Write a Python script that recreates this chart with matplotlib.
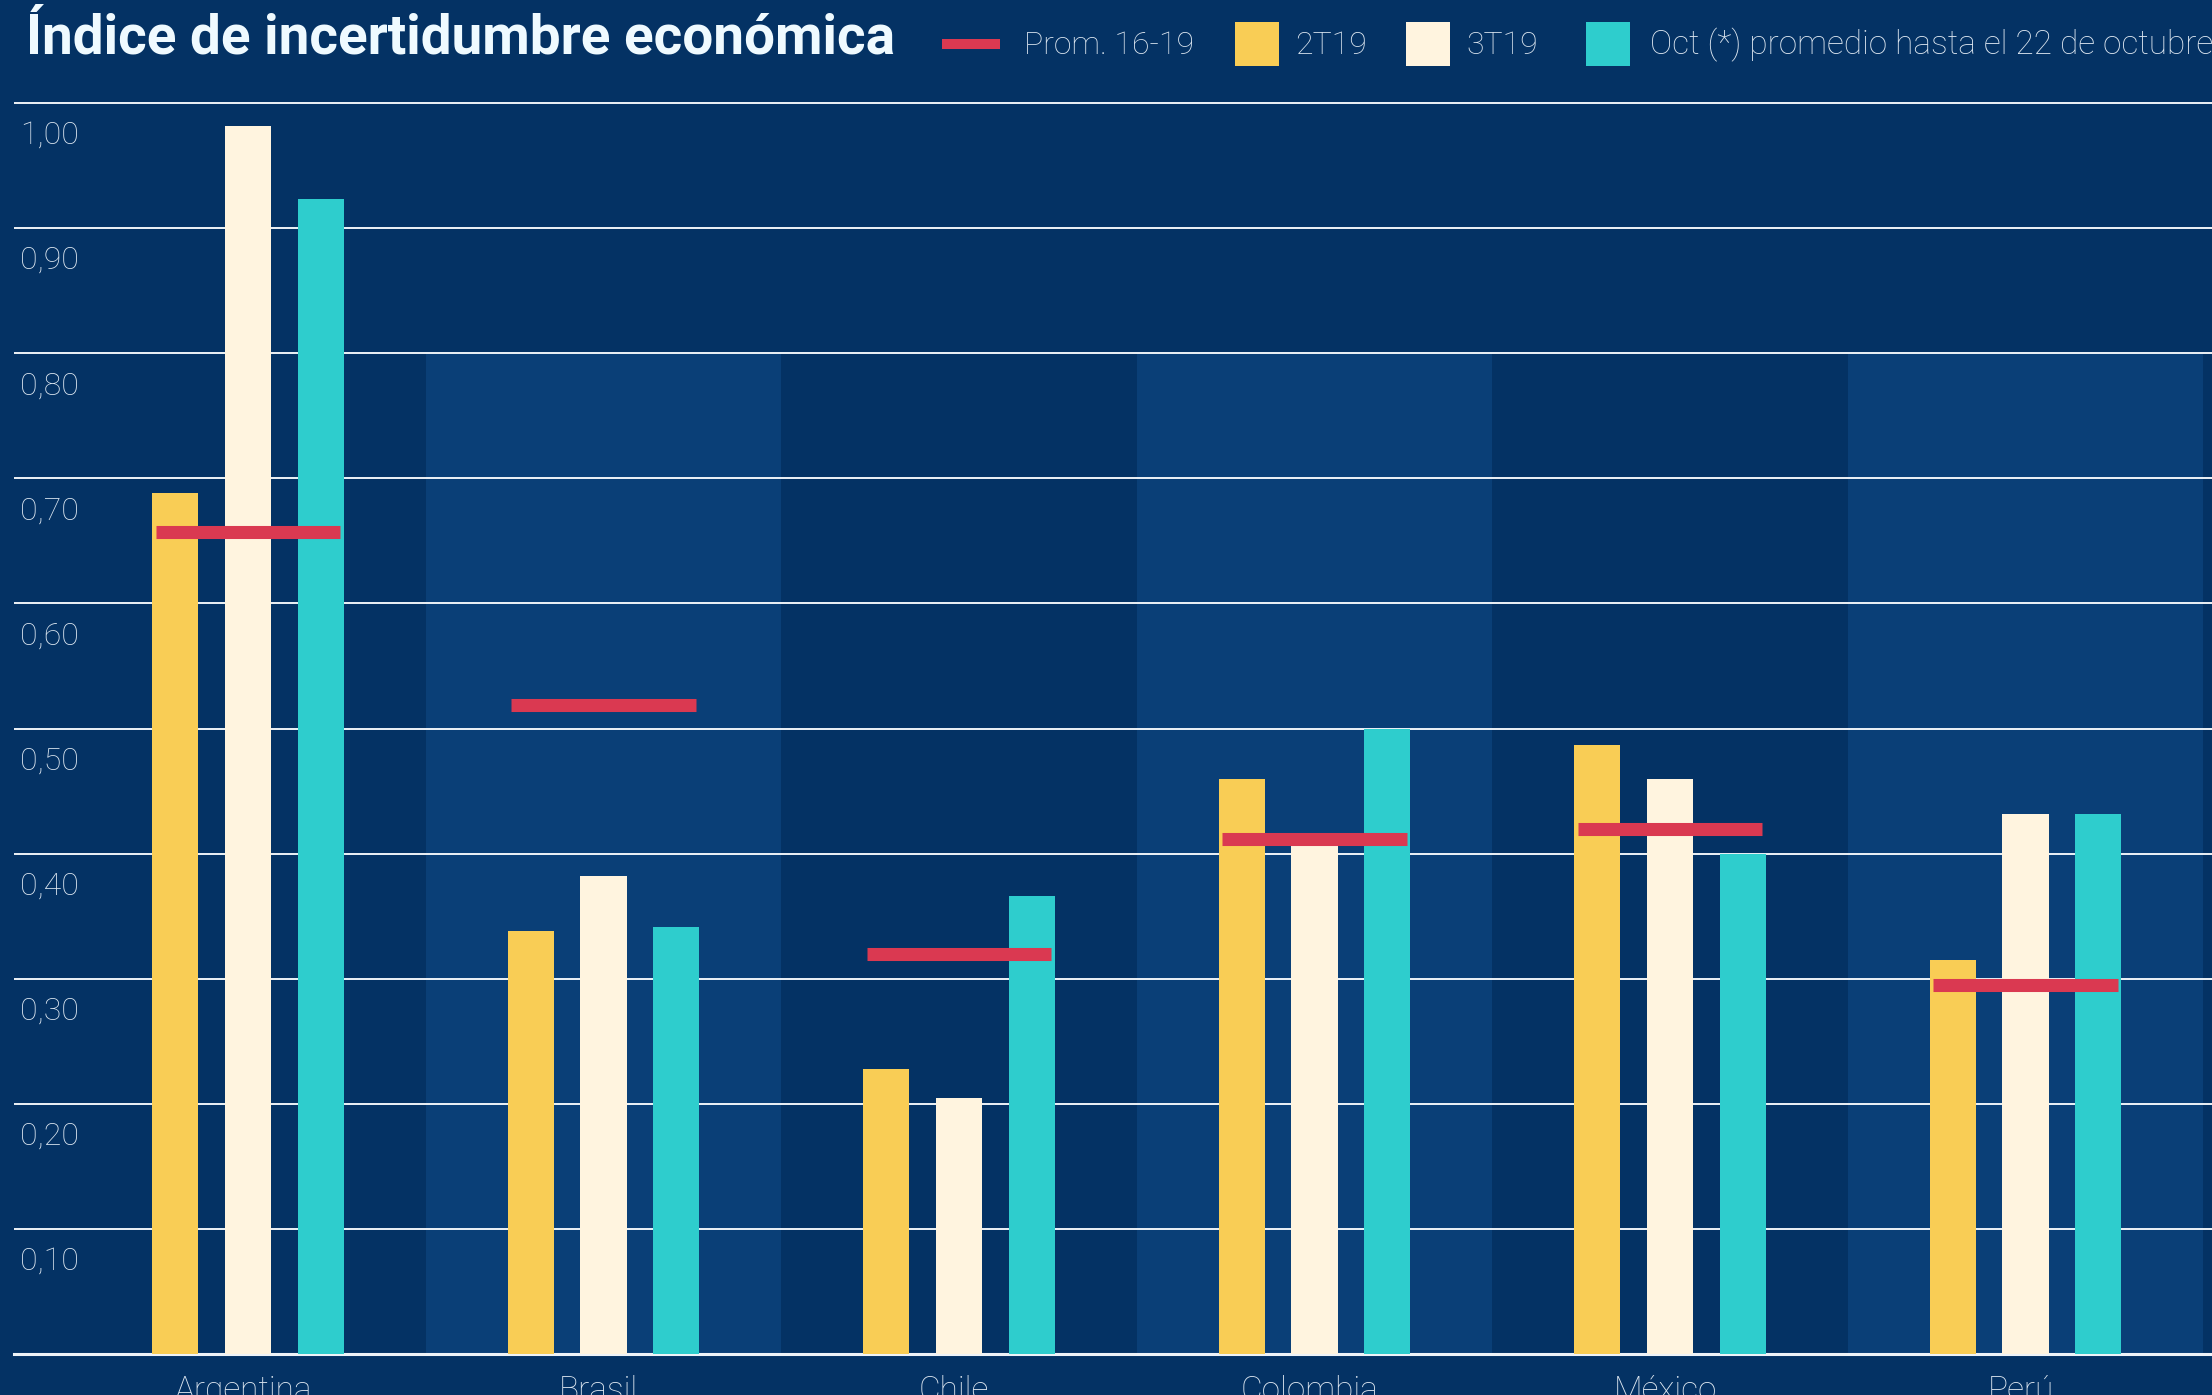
import matplotlib
matplotlib.use("Agg")
import matplotlib.pyplot as plt
from matplotlib import transforms
from matplotlib.patches import Rectangle


countries = ["Argentina", "Brasil", "Chile", "Colombia", "México", "Perú"]
q2_2019 = [0.688, 0.338, 0.228, 0.460, 0.487, 0.315]
q3_2019 = [0.982, 0.382, 0.205, 0.410, 0.460, 0.432]
oct_2019 = [0.923, 0.341, 0.366, 0.500, 0.400, 0.432]
avg_16_19 = [0.657, 0.519, 0.320, 0.412, 0.420, 0.295]

y_ticks = [0.1, 0.2, 0.3, 0.4, 0.5, 0.6, 0.7, 0.8, 0.9, 1.0]
y_tick_labels = ["0,10", "0,20", "0,30", "0,40", "0,50", "0,60", "0,70", "0,80", "0,90", "1,00"]
legend_labels = ["Prom. 16-19", "2T19", "3T19", "Oct (*) promedio hasta el 22 de octubre"]
title = "Índice de incertidumbre económica"

W, H = 2212, 1395
BG_DARK = "#043264"
BG_LIGHT = "#0a3f77"
YELLOW = "#f9cd55"
CREAM = "#fff4df"
TEAL = "#2ecdcd"
RED = "#da3951"
GRID = "#eef3f8"
TEXT = "#dce6f0"

plt.rcParams["font.family"] = ["Roboto", "DejaVu Sans"]


def fx(px):
    return px / W


def fy(px_from_top):
    return 1 - px_from_top / H


fig = plt.figure(figsize=(W / 100, H / 100), dpi=100, facecolor=BG_DARK)

# plot area: left edge 14px, baseline 1354px from top, 0.1 = 125.1px, one country = 355.5px
unit_y = 1251.0
unit_x = 355.5
x0_px = 248.0
ax = fig.add_axes([fx(14), 41 / H, 1 - fx(14), 1.02 * unit_y / H])
ax.set_facecolor(BG_DARK)
ax.set_xlim((14 - x0_px) / unit_x, (W - x0_px) / unit_x)
ax.set_ylim(0, 1.02)
for side in ax.spines.values():
    side.set_visible(False)

idx = list(range(len(countries)))

# alternating column bands up to 0.80
band_idx = [i for i in idx if i % 2 == 1]
ax.bar(band_idx, [0.8] * len(band_idx), width=1.0, color=BG_LIGHT, zorder=0)

ax.set_yticks(y_ticks)
ax.set_xticks([])
ax.tick_params(axis="y", length=0, labelleft=False)
ax.yaxis.grid(True, color=GRID, linewidth=1.4, zorder=1)
ax.set_axisbelow(True)
ax.axhline(0, color=GRID, linewidth=2.2, zorder=1, clip_on=False)

bar_w = 0.13
step = 0.205
ax.bar([i - step for i in idx], q2_2019, width=bar_w, color=YELLOW, zorder=2)
ax.bar(idx, q3_2019, width=bar_w, color=CREAM, zorder=2)
ax.bar([i + step for i in idx], oct_2019, width=bar_w, color=TEAL, zorder=2)
ax.hlines(avg_16_19, [i - 0.26 for i in idx], [i + 0.26 for i in idx],
          colors=RED, linewidth=9.4, capstyle="butt", zorder=3)

# y labels sit inside the plot, just under each gridline
ylab_tr = transforms.offset_copy(
    transforms.blended_transform_factory(ax.transAxes, ax.transData),
    fig=fig, x=6 * 0.72, y=-41 * 0.72, units="points")
for v, lab in zip(y_ticks, y_tick_labels):
    ax.text(0, v, lab, transform=ylab_tr, ha="left", va="baseline",
            fontsize=23, fontweight="light", color=TEXT)

xlab_tr = transforms.offset_copy(ax.transData, fig=fig, x=-5 * 0.72, y=-46 * 0.72, units="points")
for i, name in zip(idx, countries):
    ax.text(i, 0, name, transform=xlab_tr, ha="center", va="baseline",
            fontsize=24, fontweight="light", color=TEXT, clip_on=False)

# title, scaled to the reference width
t = fig.text(fx(26), fy(53), title, ha="left", va="baseline", fontsize=36,
             fontweight="bold", color="#effaff")
fig.canvas.draw()
w_px = t.get_window_extent().width
t.set_fontsize(36 * 870 / w_px)

# legend drawn by hand in figure pixels
fig.add_artist(Rectangle((fx(942), fy(49)), fx(58), 10 / H, transform=fig.transFigure,
                         facecolor=RED, edgecolor="none"))
swatches = [(1235, YELLOW), (1406, CREAM), (1586, TEAL)]
for left, col in swatches:
    fig.add_artist(Rectangle((fx(left), fy(66)), fx(44), 44 / H, transform=fig.transFigure,
                             facecolor=col, edgecolor="none"))
legend_sizes = [23, 23, 23, 24]
for left, lab, fs in zip([1024, 1295, 1466, 1650], legend_labels, legend_sizes):
    fig.text(fx(left), fy(54), lab, ha="left", va="baseline", fontsize=fs,
             fontweight="light", color=TEXT)

fig.savefig("out.png", dpi=100, facecolor=BG_DARK)
